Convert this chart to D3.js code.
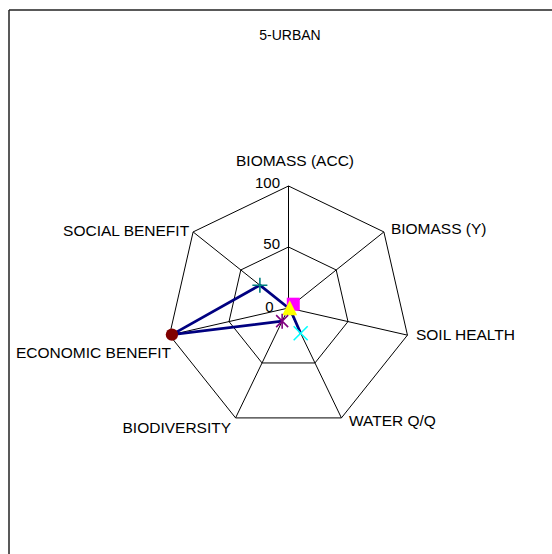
<!DOCTYPE html>
<html>
<head>
<meta charset="utf-8">
<script src="https://cdn.jsdelivr.net/npm/d3@7"></script>
<style>
body{margin:0;background:#fff;}
text{font-family:Arial,"Liberation Sans",sans-serif;fill:#000;}
</style>
</head>
<body>
<svg id="chart" width="552" height="554"></svg>
<script>
var title = "5-URBAN"
var axes = ["BIOMASS (ACC)","BIOMASS (Y)","SOIL HEALTH","WATER Q/Q","BIODIVERSITY","ECONOMIC BENEFIT","SOCIAL BENEFIT"]
var values = [0, 5, 1, 23, 12, 98, 30]
var ticks = [0, 50, 100]
// marker per point, excel default series styles
var markers = ["none","square","triangle","cross","asterisk","circle","plus"]
var markerColors = ["#000080","#ff00ff","#ffff00","#00ffff","#800080","#800000","#008080"]

var svg = d3.select("#chart")
var cx = 288.5, cy = 308, R = 122
var n = axes.length
// label nudges from each outer vertex (excel places them a bit oddly)
var labelOff = [[6.5,-20],[7,2],[8.5,5],[7.5,8],[-4.5,15],[1.5,23],[-4,4]]

var rScale = d3.scaleLinear().domain([0,100]).range([0,R])
function ang(i){ return i*2*Math.PI/n }
function px(i,v){ return cx + rScale(v)*Math.sin(ang(i)) }
function py(i,v){ return cy - rScale(v)*Math.cos(ang(i)) }

// frame
svg.append("line").attr("x1",9).attr("y1",10).attr("x2",552).attr("y2",10)
  .attr("stroke","#222").attr("stroke-width",1.5)
svg.append("line").attr("x1",9).attr("y1",10).attr("x2",9).attr("y2",554)
  .attr("stroke","#222").attr("stroke-width",1.5)

svg.append("text").attr("x",290).attr("y",40).attr("text-anchor","middle")
  .style("font-size","14px").text(title)

// rings
ticks.filter(function(t){return t>0}).forEach(function(t){
  var pts = d3.range(n).map(function(i){return [px(i,t),py(i,t)]})
  svg.append("polygon").attr("points",pts.map(function(p){return p.join(",")}).join(" "))
    .attr("fill","none").attr("stroke","#000").attr("stroke-width",1)
})
// spokes
svg.selectAll(".spoke").data(axes).enter().append("line")
  .attr("x1",cx).attr("y1",cy)
  .attr("x2",function(d,i){return px(i,100)})
  .attr("y2",function(d,i){return py(i,100)})
  .attr("stroke","#000").attr("stroke-width",1)

// tick labels
svg.selectAll(".tick").data(ticks).enter().append("text")
  .attr("x",function(d){return cx - (d==0 ? 15 : 8.5)})
  .attr("y",function(d){return cy - rScale(d) + (d==0 ? 4 : 2)})
  .attr("text-anchor","end").style("font-size","15px")
  .text(function(d){return d})

// axis labels
svg.selectAll(".lab").data(axes).enter().append("text")
  .attr("x",function(d,i){return px(i,100) + labelOff[i][0]})
  .attr("y",function(d,i){return py(i,100) + labelOff[i][1]})
  .attr("text-anchor",function(d,i){
    var s = Math.sin(ang(i))
    return s>0.1 ? "start" : (s<-0.1 ? "end" : "middle")
  })
  .style("font-size","15.5px")
  .text(function(d){return d})

// data line, open between WATER Q/Q and BIODIVERSITY as in the source
var order = [4,5,6,0,1,2,3]
var line = d3.line()
  .x(function(i){return px(i,values[i])})
  .y(function(i){return py(i,values[i])})
svg.append("path").datum(order).attr("d",line)
  .attr("fill","none").attr("stroke","#000080").attr("stroke-width",2.8)
  .attr("stroke-linejoin","round")

// markers
var g = svg.selectAll(".mk").data(values).enter().append("g")
  .attr("transform",function(d,i){return "translate("+px(i,d)+","+py(i,d)+")"})
g.each(function(d,i){
  var m = d3.select(this), c = markerColors[i], s = 6.5
  if(markers[i]=="square"){
    m.append("rect").attr("x",-s).attr("y",-s).attr("width",2*s).attr("height",2*s).attr("fill",c)
  } else if(markers[i]=="triangle"){
    m.append("path").attr("d","M0,-8L7.5,7L-7.5,7Z").attr("fill",c)
  } else if(markers[i]=="circle"){
    m.append("circle").attr("r",6.2).attr("fill",c)
  } else if(markers[i]=="cross"){
    m.append("path").attr("d","M-7,-7L7,7M-7,7L7,-7").attr("stroke",c).attr("stroke-width",1.6)
  } else if(markers[i]=="plus"){
    m.append("path").attr("d","M-7.5,0L7.5,0M0,-7.5L0,7.5").attr("stroke",c).attr("stroke-width",1.6)
  } else if(markers[i]=="asterisk"){
    m.append("path").attr("d","M-6,-6L6,6M-6,6L6,-6M0,-7.5L0,7.5").attr("stroke",c).attr("stroke-width",1.6)
  }
})
</script>
</body>
</html>
